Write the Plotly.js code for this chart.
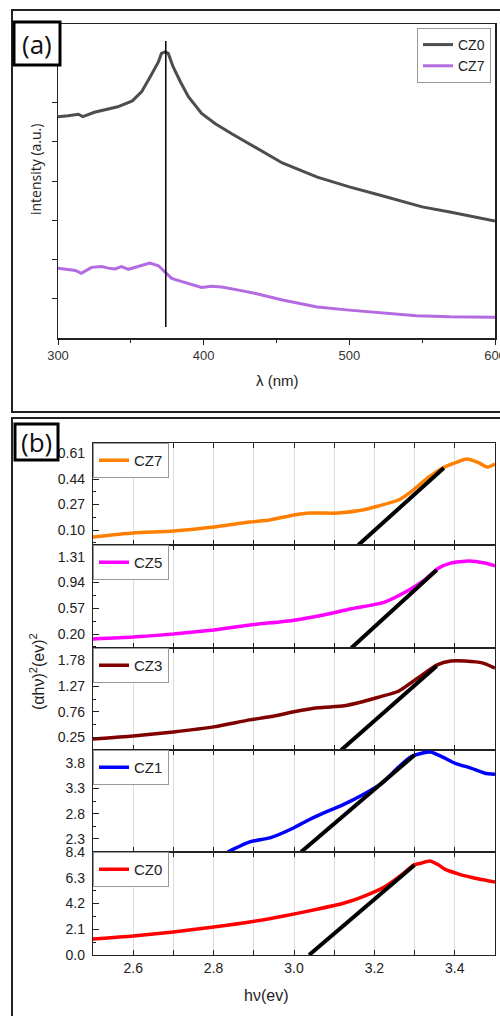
<!DOCTYPE html>
<html>
<head>
<meta charset="utf-8">
<script src="https://cdn.plot.ly/plotly-3.0.1.min.js"></script>
<style>html,body{margin:0;padding:0;background:#fff;}#chart{width:500px;height:1016px;}</style>
</head>
<body>
<div id="chart"></div>
<script>
// ---------- Panel (a) data ----------
const lamCZ0 = [300,307,314,317,325,332,341,351,357.5,364,369,371,373.5,375.7,379,384,389.5,398.6,408,419,435,454,478,500,520,533,550,569,585,600];
const intCZ0 = [5.64,5.66,5.70,5.64,5.75,5.81,5.89,6.04,6.28,6.70,7.04,7.25,7.29,7.25,6.91,6.53,6.15,5.72,5.46,5.21,4.87,4.46,4.10,3.85,3.65,3.52,3.34,3.21,3.09,2.98];
const lamCZ7 = [300,307,312,316,323,330,334.5,339,343.7,348.3,355,363,369,373.5,378,384,389.5,398.6,405.5,412.4,424,435,454,478,500,523,546,569,585,600];
const intCZ7 = [1.78,1.75,1.72,1.65,1.80,1.82,1.78,1.76,1.82,1.75,1.82,1.91,1.84,1.69,1.52,1.45,1.39,1.29,1.32,1.30,1.22,1.14,0.97,0.79,0.71,0.64,0.57,0.54,0.53,0.53];
const peakLineX = [374,374];
const peakLineY = [0.28,7.57];
const aXTicks = [300,400,500,600];
const aXMinor = [350,450,550];
const aYTicks = [1,2,3,4,5,6];

// ---------- Panel (b) data ----------
const bNames = ["CZ7","CZ5","CZ3","CZ1","CZ0"];
const hv7 = [2.5,2.6,2.7,2.8,2.89,2.94,3.0,3.04,3.11,3.17,3.21,3.26,3.29,3.335,3.37,3.40,3.43,3.46,3.48,3.5];
const y7  = [0.053,0.08,0.093,0.12,0.153,0.167,0.2,0.213,0.213,0.233,0.26,0.3,0.353,0.453,0.513,0.547,0.573,0.547,0.52,0.54];
const hv5 = [2.5,2.6,2.7,2.8,2.89,3.0,3.07,3.14,3.225,3.285,3.325,3.36,3.39,3.435,3.475,3.5];
const y5  = [0.13,0.158,0.2,0.26,0.33,0.40,0.47,0.56,0.66,0.83,0.98,1.15,1.22,1.25,1.22,1.18];
const hv3 = [2.5,2.6,2.7,2.8,2.89,2.94,3.0,3.06,3.125,3.17,3.21,3.26,3.29,3.325,3.355,3.39,3.425,3.47,3.5];
const y3  = [0.22,0.28,0.36,0.46,0.6,0.66,0.76,0.84,0.88,0.96,1.05,1.17,1.33,1.53,1.69,1.77,1.77,1.73,1.63];
const hv1 = [2.835,2.89,2.94,3.0,3.035,3.07,3.12,3.17,3.22,3.26,3.29,3.32,3.34,3.37,3.40,3.44,3.475,3.5];
const y1  = [2.04,2.24,2.32,2.52,2.67,2.80,2.97,3.17,3.41,3.72,3.92,4.0,4.02,3.92,3.80,3.70,3.6,3.58];
const hv0 = [2.5,2.6,2.7,2.8,2.89,2.975,3.06,3.125,3.175,3.225,3.2675,3.2975,3.3175,3.3375,3.36,3.375,3.41,3.46,3.5];
const y0  = [1.31,1.55,1.88,2.28,2.69,3.18,3.75,4.24,4.81,5.55,6.53,7.34,7.5,7.67,7.34,7.0,6.6,6.2,5.96];
const fitX7 = [3.16,3.3725],   fitY7 = [0,0.513];
const fitX5 = [3.1425,3.355],  fitY5 = [0,1.12];
const fitX3 = [3.1175,3.355],  fitY3 = [0,1.67];
const fitX1 = [3.0175,3.30],   fitY1 = [2.04,3.96];
const fitX0 = [3.0375,3.30],   fitY0 = [0,7.34];
const yTicks7 = [0.10,0.27,0.44,0.61];
const yTicks5 = [0.20,0.57,0.94,1.31];
const yTicks3 = [0.25,0.76,1.27,1.78];
const yTicks1 = [2.3,2.8,3.3,3.8];
const yTicks0 = [0.0,2.1,4.2,6.3,8.4];
const yTickText7 = ["0.10","0.27","0.44","0.61"];
const yTickText5 = ["0.20","0.57","0.94","1.31"];
const yTickText3 = ["0.25","0.76","1.27","1.78"];
const yTickText1 = ["2.3","2.8","3.3","3.8"];
const yTickText0 = ["0.0","2.1","4.2","6.3","8.4"];
const yRanges = [[0,0.68],[0,1.48],[0,2.03],[2.04,4.06],[0,8.4]];
const bXTicks = [2.6,2.8,3.0,3.2,3.4];
const bXTickText = ["2.6","2.8","3.0","3.2","3.4"];

// ---------- geometry helpers ----------
const W = 500, H = 1016;
const px = x => x / W;
const py = y => 1 - y / H;
const FONT = "Liberation Sans, Arial, sans-serif";
const TXT = "#222";

const traces = [];
// panel a
traces.push({x: lamCZ0, y: intCZ0, xaxis:'x', yaxis:'y', type:'scatter', mode:'lines', name:'CZ0',
  line:{color:'#4d4d4d', width:3}, legend:'legend'});
traces.push({x: lamCZ7, y: intCZ7, xaxis:'x', yaxis:'y', type:'scatter', mode:'lines', name:'CZ7',
  line:{color:'#b46ae0', width:3}, legend:'legend'});
traces.push({x: peakLineX, y: peakLineY, xaxis:'x', yaxis:'y', type:'scatter', mode:'lines',
  line:{color:'#000', width:1.5}, showlegend:false});

// panel b
const bData = [
  {x:hv7, y:y7, fx:fitX7, fy:fitY7, color:'#ff8000', tv:yTicks7, tt:yTickText7},
  {x:hv5, y:y5, fx:fitX5, fy:fitY5, color:'#ff00ff', tv:yTicks5, tt:yTickText5},
  {x:hv3, y:y3, fx:fitX3, fy:fitY3, color:'#800000', tv:yTicks3, tt:yTickText3},
  {x:hv1, y:y1, fx:fitX1, fy:fitY1, color:'#0000ff', tv:yTicks1, tt:yTickText1},
  {x:hv0, y:y0, fx:fitX0, fy:fitY0, color:'#ff0000', tv:yTicks0, tt:yTickText0}
];
const tops = [443,545,648,750,852,955];

const layout = {
  width: W, height: H,
  margin:{l:0,r:0,t:0,b:0},
  paper_bgcolor:'#fff', plot_bgcolor:'rgba(0,0,0,0)',
  font:{family:FONT, color:TXT, size:12},
  showlegend:true,
  xaxis:{domain:[px(58),px(495)], range:[300,600], anchor:'y', showline:true, mirror:true,
    linecolor:'#222', linewidth:1.5, ticks:'outside', ticklen:5, tickcolor:'#222',
    tickvals:aXTicks, ticktext:aXTicks.map(String), showgrid:false, zeroline:false,
    ticklabeloverflow:'allow',
    tickfont:{size:13, color:'#333'},
    minor:{ticks:'outside', ticklen:3, tickvals:aXMinor, tickcolor:'#222', showgrid:false}},
  yaxis:{domain:[py(338),py(24)], range:[0,8], anchor:'x', showline:true, mirror:true,
    linecolor:'#222', linewidth:1.5, ticks:'outside', ticklen:5, tickcolor:'#222',
    tickvals:aYTicks, showticklabels:false, showgrid:false, zeroline:false},
  legend:{x:px(417), y:py(28), xanchor:'left', yanchor:'top', bgcolor:'#fff',
    bordercolor:'#999', borderwidth:1, font:{size:14, color:'#222', family:FONT},
    tracegroupgap:0, itemwidth:30},
  shapes:[], annotations:[]
};

bData.forEach((d, i) => {
  const n = i + 2;
  const xa = 'x' + n, ya = 'y' + n;
  const lg = 'legend' + n;
  traces.push({x:d.x, y:d.y, xaxis:xa, yaxis:ya, type:'scatter', mode:'lines', name:bNames[i],
    line:{color:d.color, width:3.5, shape:'spline', smoothing:0.6}, legend:lg});
  traces.push({x:d.fx, y:d.fy, xaxis:xa, yaxis:ya, type:'scatter', mode:'lines',
    line:{color:'#000', width:4}, showlegend:false});
  const isBottom = (i === bData.length - 1);
  layout['xaxis' + n] = {domain:[px(93),px(495)], range:[2.5,3.5], anchor:ya,
    showline:true, mirror:'ticks', linecolor:'#222', linewidth:1.2, ticks:'inside', ticklen:5,
    tickcolor:'#222', tickvals:bXTicks, ticktext:bXTickText, showticklabels:isBottom,
    tickfont:{size:14, color:'#222'}, zeroline:false,
    showgrid:true, gridcolor:'#dcdcdc', gridwidth:1,
    minor:{ticks:'inside', ticklen:5, dtick:0.1, tick0:2.5, tickcolor:'#222', showgrid:true, gridcolor:'#dcdcdc'}};
  const step = d.tv[1] - d.tv[0];
  layout['yaxis' + n] = {domain:[py(tops[i+1]), py(tops[i])], range:yRanges[i], anchor:xa,
    showline:true, mirror:true, linecolor:'#222', linewidth:1.2, ticks:'inside', ticklen:6,
    tickcolor:'#222', tickvals:d.tv, ticktext:d.tt, tickfont:{size:14, color:'#222'},
    showgrid:false, zeroline:false, ticklabelstandoff:4,
    minor:{ticks:'inside', ticklen:3, tick0:d.tv[0], dtick:step/2, tickcolor:'#222', showgrid:false}};
  layout[lg] = {x:px(93), y:py(tops[i]), xanchor:'left', yanchor:'top', bgcolor:'#fff',
    bordercolor:'#999', borderwidth:1, font:{size:15, color:'#222', family:FONT},
    tracegroupgap:0, itemwidth:30};
});

// frames and panel labels
layout.shapes.push({type:'rect', xref:'paper', yref:'paper', x0:px(12), x1:px(512), y0:py(412), y1:py(10),
  line:{color:'#222', width:2}});
layout.shapes.push({type:'rect', xref:'paper', yref:'paper', x0:px(12), x1:px(512), y0:py(1030), y1:py(418),
  line:{color:'#222', width:2}});
layout.shapes.push({type:'rect', xref:'paper', yref:'paper', x0:px(14), x1:px(60), y0:py(65), y1:py(22),
  line:{color:'#000', width:3}, fillcolor:'#fff'});
layout.shapes.push({type:'rect', xref:'paper', yref:'paper', x0:px(15), x1:px(58), y0:py(460), y1:py(424),
  line:{color:'#000', width:3}, fillcolor:'#fff'});

layout.annotations.push({text:'(a)', xref:'paper', yref:'paper', x:px(37), y:py(44), xanchor:'center', yanchor:'middle',
  showarrow:false, font:{family:'Open Sans, sans-serif', size:26, color:'#111'}});
layout.annotations.push({text:'(b)', xref:'paper', yref:'paper', x:px(36.5), y:py(442), xanchor:'center', yanchor:'middle',
  showarrow:false, font:{family:'Open Sans, sans-serif', size:26, color:'#111'}});
layout.annotations.push({text:'intensity (a.u.)', xref:'paper', yref:'paper', x:px(35), y:py(170), textangle:-90,
  xanchor:'center', yanchor:'middle', showarrow:false, font:{family:'Open Sans, sans-serif', size:14, color:'#222'}});
layout.annotations.push({text:'λ (nm)', xref:'paper', yref:'paper', x:px(277), y:py(380),
  xanchor:'center', yanchor:'middle', showarrow:false, font:{family:FONT, size:15, color:'#222'}});
layout.annotations.push({text:'(αhν)<sup>2</sup>(ev)<sup>2</sup>', xref:'paper', yref:'paper', x:px(37), y:py(672), textangle:-90,
  xanchor:'center', yanchor:'middle', showarrow:false, font:{family:FONT, size:16, color:'#222'}});
layout.annotations.push({text:'hν(ev)', xref:'paper', yref:'paper', x:px(266), y:py(995),
  xanchor:'center', yanchor:'middle', showarrow:false, font:{family:FONT, size:16, color:'#222'}});

Plotly.newPlot('chart', traces, layout, {displayModeBar:false, staticPlot:true});
</script>
</body>
</html>
